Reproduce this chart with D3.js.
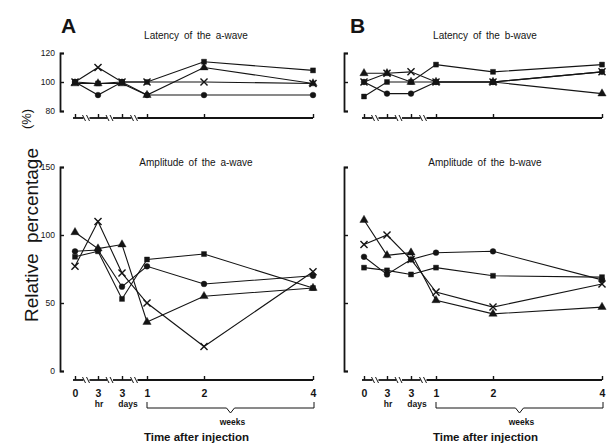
<!DOCTYPE html>
<html>
<head>
<meta charset="utf-8">
<script src="https://cdn.jsdelivr.net/npm/d3@7"></script>
<style>
  body { margin: 0; background: #fff; }
  svg { font-family: "Liberation Sans", Arial, sans-serif; }
</style>
</head>
<body>
<div id="chart"></div>
<script>
const svgWidth = 614;
const svgHeight = 448;

// time points along the broken x axis: 0, 3 hr, 3 days, 1 wk, 2 wk, 4 wk
const timePoints = [0, 1, 2, 3, 4, 5];
const tickTop = ["0", "3", "3", "1", "2", "4"];
const tickSub = ["", "hr", "days", "", "", ""];
const latencyTicks = [80, 100, 120];
const amplitudeTicks = [0, 50, 100, 150];

// Latency of the a-wave (%)
const latA_circle   = [100, 91, 100, 91, 91, 91];
const latA_square   = [100, 99, 100, 100, 114, 108];
const latA_triangle = [99, 99, 99, 91, 110, 99];
const latA_cross    = [100, 110, 100, 100, 100, 99];

// Latency of the b-wave (%)
const latB_circle   = [100, 92, 92, 100, 100, 107];
const latB_square   = [90, 100, 100, 112, 107, 112];
const latB_triangle = [106, 106, 100, 100, 100, 92];
const latB_cross    = [100, 106, 107, 100, 100, 107];

// Amplitude of the a-wave (%)
const ampA_circle   = [88, 89, 62, 77, 64, 70];
const ampA_square   = [84, 88, 53, 82, 86, 61];
const ampA_triangle = [102, 90, 93, 36, 55, 61];
const ampA_cross    = [77, 110, 72, 50, 18, 73];

// Amplitude of the b-wave (%)
const ampB_circle   = [84, 71, 82, 87, 88, 67];
const ampB_square   = [76, 74, 71, 76, 70, 69];
const ampB_triangle = [111, 85, 87, 52, 42, 47];
const ampB_cross    = [93, 100, 82, 58, 47, 64];

const shapes = ["circle", "square", "triangle", "cross"];

const panels = [
  {
    name: "A", dx: 0, showLabels: true,
    latTitle: "Latency of the a-wave", ampTitle: "Amplitude of the a-wave",
    lat: [latA_circle, latA_square, latA_triangle, latA_cross],
    amp: [ampA_circle, ampA_square, ampA_triangle, ampA_cross]
  },
  {
    name: "B", dx: 289, showLabels: false,
    latTitle: "Latency of the b-wave", ampTitle: "Amplitude of the b-wave",
    lat: [latB_circle, latB_square, latB_triangle, latB_cross],
    amp: [ampB_circle, ampB_square, ampB_triangle, ampB_cross]
  }
];

const ink = "#141414";

const svg = d3.select("#chart").append("svg")
  .attr("width", svgWidth)
  .attr("height", svgHeight)
  .style("background", "#fff");

const yLat = d3.scaleLinear().domain([80, 120]).range([111, 53]);
const yAmp = d3.scaleLinear().domain([0, 150]).range([371, 167]);

const symbolFor = {
  circle: d3.symbol().type(d3.symbolCircle).size(26),
  square: d3.symbol().type(d3.symbolSquare).size(25),
  triangle: d3.symbol().type(d3.symbolTriangle).size(30),
  cross: d3.symbol().type(d3.symbolX).size(34)
};

// broken x axis with // marks between the first four points
const drawXAxis = (g, x, y0, withLabels) => {
  const axis = d3.axisBottom(x)
    .tickValues(timePoints)
    .tickSizeInner(-4)
    .tickSizeOuter(0)
    .tickPadding(10)
    .tickFormat(i => withLabels ? tickTop[i] : "");

  const ag = g.append("g")
    .attr("transform", `translate(0,${y0})`)
    .call(axis);
  ag.select(".domain").remove();
  ag.selectAll(".tick line").attr("stroke", ink).attr("stroke-width", 1.4);
  ag.selectAll(".tick text")
    .attr("fill", ink)
    .style("font-size", "10.5px")
    .style("font-weight", "bold")
    .style("font-family", "'Liberation Sans', Arial, sans-serif");

  const breaks = [0.5, 1.5, 2.5].map(v => x(v));
  const start = x(0) - 2;
  const end = x(5);
  const edges = [start];
  breaks.forEach(b => { edges.push(b - 3, b + 3); });
  edges.push(end);
  for (let i = 0; i < edges.length; i += 2) {
    g.append("line")
      .attr("x1", edges[i]).attr("x2", edges[i + 1])
      .attr("y1", y0).attr("y2", y0)
      .attr("stroke", ink).attr("stroke-width", 1.8);
  }
  breaks.forEach(b => {
    [-2, 2].forEach(o => {
      g.append("line")
        .attr("x1", b + o - 2).attr("y1", y0 - 3)
        .attr("x2", b + o + 1).attr("y2", y0 + 3)
        .attr("stroke", ink).attr("stroke-width", 1);
    });
  });

  if (withLabels) {
    g.selectAll(".sub").data(timePoints.filter(i => tickSub[i])).enter()
      .append("text")
      .attr("x", i => x(i) + (i === 2 ? 6 : 1))
      .attr("y", y0 + 27)
      .attr("text-anchor", "middle")
      .style("font-size", "8.5px")
      .style("font-weight", "bold")
      .attr("fill", ink)
      .text(i => tickSub[i]);

    // weeks bracket
    const bx1 = x(3), bx2 = x(5) + 1, by = y0 + 28, mid = (bx1 + bx2) / 2;
    g.append("path")
      .attr("d", `M${bx1},${by - 6}V${by}H${mid - 4}L${mid},${by + 5}L${mid + 4},${by}H${bx2}V${by - 6}`)
      .attr("fill", "none").attr("stroke", ink).attr("stroke-width", 1);
    g.append("text")
      .attr("x", mid + 2).attr("y", by + 17)
      .attr("text-anchor", "middle")
      .style("font-size", "8.5px").style("font-weight", "bold")
      .attr("fill", ink)
      .text("weeks");
    g.append("text")
      .attr("x", mid - 34).attr("y", by + 33)
      .attr("text-anchor", "middle")
      .style("font-size", "11.5px").style("font-weight", "bold")
      .attr("fill", ink)
      .text("Time after injection");
  }
};

const drawYAxis = (g, xPos, y, ticks, withLabels) => {
  const axis = d3.axisLeft(y)
    .tickValues(ticks)
    .tickSizeInner(-4)
    .tickSizeOuter(-4)
    .tickPadding(5)
    .tickFormat(d => withLabels ? d : "");
  const ag = g.append("g")
    .attr("transform", `translate(${xPos},0)`)
    .call(axis);
  ag.select(".domain").attr("stroke", ink).attr("stroke-width", 1.8);
  ag.selectAll(".tick line").attr("stroke", ink).attr("stroke-width", 1.4);
  ag.selectAll(".tick text")
    .attr("fill", ink)
    .style("font-size", "8.5px")
    .style("font-family", "'Liberation Sans', Arial, sans-serif");
};

const drawSeries = (g, x, y, seriesList) => {
  const line = d3.line().x((d, i) => x(timePoints[i])).y(d => y(d));
  seriesList.forEach(vals => {
    g.append("path")
      .datum(vals)
      .attr("d", line)
      .attr("fill", "none")
      .attr("stroke", ink)
      .attr("stroke-width", 1.1);
  });
  seriesList.forEach((vals, s) => {
    const shape = shapes[s];
    g.selectAll(null).data(vals).enter()
      .append("path")
      .attr("transform", (d, i) => `translate(${x(timePoints[i])},${y(d)})`)
      .attr("d", symbolFor[shape])
      .attr("fill", shape === "cross" ? "none" : ink)
      .attr("stroke", ink)
      .attr("stroke-width", shape === "cross" ? 1.4 : 0.4);
  });
};

panels.forEach(p => {
  const x = d3.scaleLinear()
    .domain(timePoints)
    .range([75, 98, 122, 147, 204, 313].map(v => v + p.dx));
  const g = svg.append("g");
  const axisX = 60 + (p.dx ? p.dx - 5 : 0);

  g.append("text")
    .attr("x", 61 + p.dx).attr("y", 33)
    .style("font-size", "21px").style("font-weight", "bold")
    .attr("fill", ink)
    .text(p.name);

  g.append("text")
    .attr("x", 196 + p.dx).attr("y", 39)
    .attr("text-anchor", "middle")
    .style("font-size", "10px").style("word-spacing", "2px")
    .attr("fill", ink)
    .text(p.latTitle);
  g.append("text")
    .attr("x", 196 + p.dx).attr("y", 166)
    .attr("text-anchor", "middle")
    .style("font-size", "10px").style("word-spacing", "2px")
    .attr("fill", ink)
    .text(p.ampTitle);

  drawYAxis(g, axisX, yLat, latencyTicks, p.showLabels);
  drawYAxis(g, axisX, yAmp, amplitudeTicks, p.showLabels);
  drawXAxis(g, x, 118, false);
  drawXAxis(g, x, 380, true);

  drawSeries(g, x, yLat, p.lat);
  drawSeries(g, x, yAmp, p.amp);
});

// shared y label
svg.append("text")
  .attr("transform", "translate(38,235) rotate(-90)")
  .attr("text-anchor", "middle")
  .style("font-size", "19px").style("word-spacing", "5px")
  .attr("fill", ink)
  .text("Relative percentage");
svg.append("text")
  .attr("transform", "translate(31,119) rotate(-90)")
  .attr("text-anchor", "middle")
  .style("font-size", "13px")
  .attr("fill", ink)
  .text("(%)");
</script>
</body>
</html>
